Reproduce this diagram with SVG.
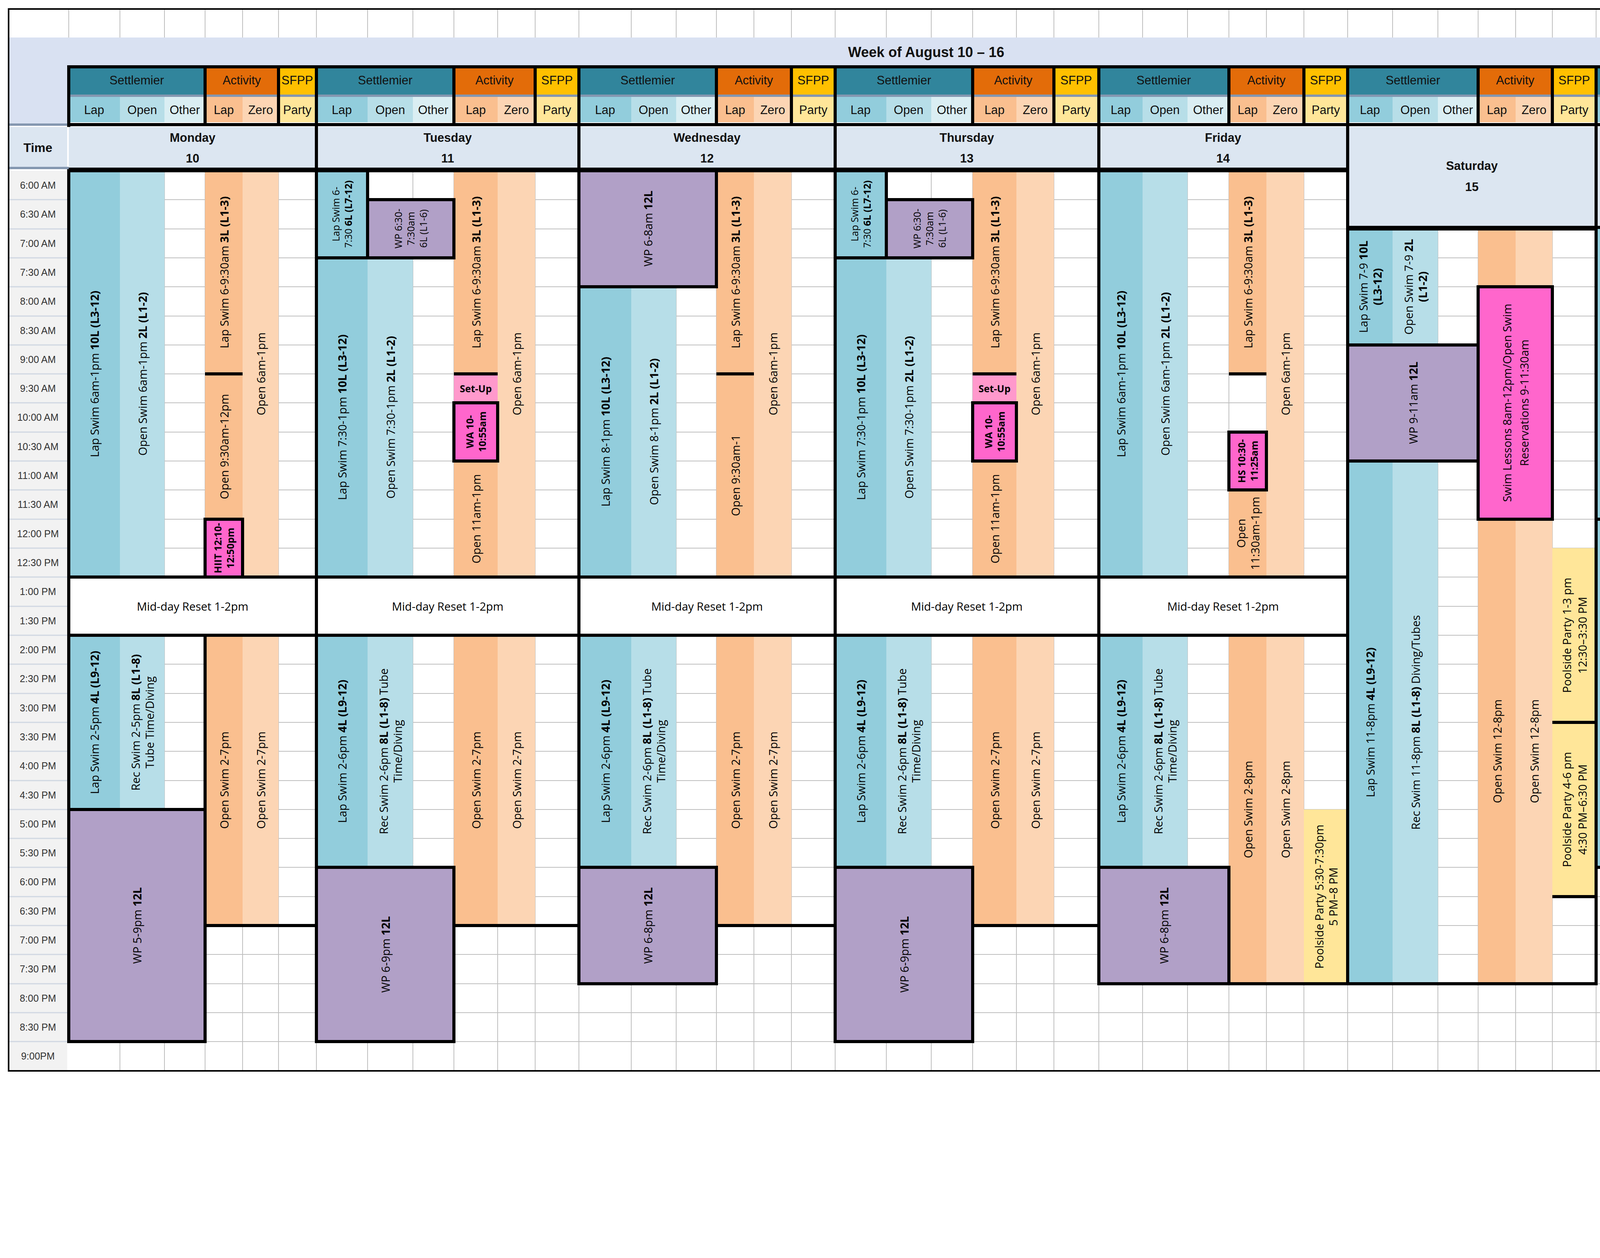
<svg xmlns="http://www.w3.org/2000/svg" width="5020" height="3220" viewBox="0 0 5020 3220">
<style>
.t{font-family:'Open Sans','DejaVu Sans',sans-serif;font-size:29px;text-anchor:middle;dominant-baseline:central;fill:#000}
.s{font-size:25px}
.b{font-weight:bold}
.h{font-family:'Liberation Sans Narrow','Liberation Sans',sans-serif;font-size:31px;text-anchor:middle;dominant-baseline:central;fill:#111}
.tm{font-family:'Liberation Sans Narrow','Liberation Sans',sans-serif;font-size:25px;text-anchor:middle;dominant-baseline:central;fill:#333}
.bd{fill:none;stroke:#000;stroke-width:8}
.ln{stroke:#000;stroke-width:8;fill:none}
.lap{fill:#92CDDC}.open{fill:#B7DEE8}.oth{fill:#DAEEF3}.al{fill:#FABF8F}.az{fill:#FCD5B4}.pt{fill:#FFE699}
.wp{fill:#B1A0C7}.pk{fill:#FF66CC}.su{fill:#FF99CC}.dh{fill:#DCE6F1}
.st{fill:#31859C}.ac{fill:#E36C09}.sf{fill:#FFC000}
</style>
<rect x="0" y="0" width="5020" height="3220" fill="#fff"/>
<g id="background">
<rect x="22" y="96" width="4705" height="71" fill="#D9E1F2"/>
<rect x="22" y="167" width="154" height="152" fill="#D9E1F2"/>
<rect x="22" y="325" width="150" height="102" fill="#DCE6F1"/>
<rect x="22" y="437" width="150" height="2304" fill="#F2F2F2"/>
<path d="M22 319H176M22 430H176" stroke="#8497B0" stroke-width="6"/>
<path stroke="#bfbfbf" stroke-width="2" fill="none" d="M176 511H4727M176 586H4727M176 660H4727M176 734H4727M176 809H4727M176 883H4727M176 957H4727M176 1031H4727M176 1106H4727M176 1180H4727M176 1254H4727M176 1329H4727M176 1403H4727M176 1477H4727M176 1552H4727M176 1626H4727M176 1700H4727M176 1775H4727M176 1849H4727M176 1923H4727M176 1998H4727M176 2072H4727M176 2146H4727M176 2220H4727M176 2295H4727M176 2369H4727M176 2443H4727M176 2518H4727M176 2592H4727M176 2666H4727
M176 23V96M307 23V96M421 23V96M525 23V96M621 23V96M713 23V96M810 23V96M941 23V96M1057 23V96M1162 23V96M1274 23V96M1370 23V96M1482 23V96M1616 23V96M1731 23V96M1834 23V96M1930 23V96M2026 23V96M2138 23V96M2269 23V96M2384 23V96M2490 23V96M2602 23V96M2698 23V96M2813 23V96M2925 23V96M3040 23V96M3146 23V96M3242 23V96M3338 23V96M3450 23V96M3565 23V96M3681 23V96M3784 23V96M3880 23V96M3974 23V96M4086 23V96M4204 23V96M4319 23V96M4423 23V96M4519 23V96M4609 23V96
M307 437V2741M421 437V2741M525 437V2741M621 437V2741M713 437V2741M810 437V2741M941 437V2741M1057 437V2741M1162 437V2741M1274 437V2741M1370 437V2741M1482 437V2741M1616 437V2741M1731 437V2741M1834 437V2741M1930 437V2741M2026 437V2741M2138 437V2741M2269 437V2741M2384 437V2741M2490 437V2741M2602 437V2741M2698 437V2741M2813 437V2741M2925 437V2741M3040 437V2741M3146 437V2741M3242 437V2741M3338 437V2741M3450 437V2741M3565 437V2741M3681 437V2741M3784 437V2741M3880 437V2741M3974 437V2741M4086 437V2741M4204 437V2741M4319 437V2741M4423 437V2741M4519 437V2741M4609 437V2741"/>
<path stroke="#d0d7e2" stroke-width="3" d="M22 511H172M22 586H172M22 660H172M22 734H172M22 809H172M22 883H172M22 957H172M22 1031H172M22 1106H172M22 1180H172M22 1254H172M22 1329H172M22 1403H172M22 1477H172M22 1552H172M22 1626H172M22 1700H172M22 1775H172M22 1849H172M22 1923H172M22 1998H172M22 2072H172M22 2146H172M22 2220H172M22 2295H172M22 2369H172M22 2443H172M22 2518H172M22 2592H172M22 2666H172"/>
<rect x="22" y="23" width="4705" height="2718" fill="none" stroke="#000" stroke-width="4"/>
<text x="2371" y="133" class="h b" style="font-size:36px">Week of August 10 – 16</text>
<text x="97" y="378" class="h b" style="font-size:32px">Time</text>
</g>
<g id="times">
<text class="tm" x="97" y="474">6:00 AM</text><text class="tm" x="97" y="548">6:30 AM</text><text class="tm" x="97" y="623">7:00 AM</text><text class="tm" x="97" y="697">7:30 AM</text><text class="tm" x="97" y="771">8:00 AM</text><text class="tm" x="97" y="846">8:30 AM</text><text class="tm" x="97" y="920">9:00 AM</text><text class="tm" x="97" y="994">9:30 AM</text><text class="tm" x="97" y="1068">10:00 AM</text><text class="tm" x="97" y="1143">10:30 AM</text><text class="tm" x="97" y="1217">11:00 AM</text><text class="tm" x="97" y="1291">11:30 AM</text><text class="tm" x="97" y="1366">12:00 PM</text><text class="tm" x="97" y="1440">12:30 PM</text><text class="tm" x="97" y="1514">1:00 PM</text><text class="tm" x="97" y="1589">1:30 PM</text><text class="tm" x="97" y="1663">2:00 PM</text><text class="tm" x="97" y="1737">2:30 PM</text><text class="tm" x="97" y="1812">3:00 PM</text><text class="tm" x="97" y="1886">3:30 PM</text><text class="tm" x="97" y="1960">4:00 PM</text><text class="tm" x="97" y="2035">4:30 PM</text><text class="tm" x="97" y="2109">5:00 PM</text><text class="tm" x="97" y="2183">5:30 PM</text><text class="tm" x="97" y="2257">6:00 PM</text><text class="tm" x="97" y="2332">6:30 PM</text><text class="tm" x="97" y="2406">7:00 PM</text><text class="tm" x="97" y="2480">7:30 PM</text><text class="tm" x="97" y="2555">8:00 PM</text><text class="tm" x="97" y="2629">8:30 PM</text><text class="tm" x="97" y="2703">9:00PM</text>
</g>
<g id="column-headers">
<g>
<rect class="st" x="176" y="167" width="349" height="75"/><rect class="ac" x="525" y="167" width="188" height="75"/><rect class="sf" x="713" y="167" width="97" height="75"/>
<rect class="lap" x="176" y="248" width="131" height="65"/><rect class="open" x="307" y="248" width="114" height="65"/><rect class="oth" x="421" y="248" width="104" height="65"/><rect class="al" x="525" y="248" width="96" height="65"/><rect class="az" x="621" y="248" width="92" height="65"/><rect class="pt" x="713" y="248" width="97" height="65"/>
<text class="h" x="350" y="205">Settlemier</text><text class="h" x="619" y="205">Activity</text><text class="h" x="761" y="205">SFPP</text>
<text class="h" x="241" y="281">Lap</text><text class="h" x="364" y="281">Open</text><text class="h" x="473" y="281">Other</text><text class="h" x="573" y="281">Lap</text><text class="h" x="667" y="281">Zero</text><text class="h" x="761" y="281">Party</text>
</g>
<g>
<rect class="st" x="810" y="167" width="352" height="75"/><rect class="ac" x="1162" y="167" width="208" height="75"/><rect class="sf" x="1370" y="167" width="112" height="75"/>
<rect class="lap" x="810" y="248" width="131" height="65"/><rect class="open" x="941" y="248" width="116" height="65"/><rect class="oth" x="1057" y="248" width="105" height="65"/><rect class="al" x="1162" y="248" width="112" height="65"/><rect class="az" x="1274" y="248" width="96" height="65"/><rect class="pt" x="1370" y="248" width="112" height="65"/>
<text class="h" x="986" y="205">Settlemier</text><text class="h" x="1266" y="205">Activity</text><text class="h" x="1426" y="205">SFPP</text>
<text class="h" x="875" y="281">Lap</text><text class="h" x="999" y="281">Open</text><text class="h" x="1109" y="281">Other</text><text class="h" x="1218" y="281">Lap</text><text class="h" x="1322" y="281">Zero</text><text class="h" x="1426" y="281">Party</text>
</g>
<g>
<rect class="st" x="1482" y="167" width="352" height="75"/><rect class="ac" x="1834" y="167" width="192" height="75"/><rect class="sf" x="2026" y="167" width="112" height="75"/>
<rect class="lap" x="1482" y="248" width="134" height="65"/><rect class="open" x="1616" y="248" width="115" height="65"/><rect class="oth" x="1731" y="248" width="103" height="65"/><rect class="al" x="1834" y="248" width="96" height="65"/><rect class="az" x="1930" y="248" width="96" height="65"/><rect class="pt" x="2026" y="248" width="112" height="65"/>
<text class="h" x="1658" y="205">Settlemier</text><text class="h" x="1930" y="205">Activity</text><text class="h" x="2082" y="205">SFPP</text>
<text class="h" x="1549" y="281">Lap</text><text class="h" x="1673" y="281">Open</text><text class="h" x="1782" y="281">Other</text><text class="h" x="1882" y="281">Lap</text><text class="h" x="1978" y="281">Zero</text><text class="h" x="2082" y="281">Party</text>
</g>
<g>
<rect class="st" x="2138" y="167" width="352" height="75"/><rect class="ac" x="2490" y="167" width="208" height="75"/><rect class="sf" x="2698" y="167" width="115" height="75"/>
<rect class="lap" x="2138" y="248" width="131" height="65"/><rect class="open" x="2269" y="248" width="115" height="65"/><rect class="oth" x="2384" y="248" width="106" height="65"/><rect class="al" x="2490" y="248" width="112" height="65"/><rect class="az" x="2602" y="248" width="96" height="65"/><rect class="pt" x="2698" y="248" width="115" height="65"/>
<text class="h" x="2314" y="205">Settlemier</text><text class="h" x="2594" y="205">Activity</text><text class="h" x="2755" y="205">SFPP</text>
<text class="h" x="2203" y="281">Lap</text><text class="h" x="2326" y="281">Open</text><text class="h" x="2437" y="281">Other</text><text class="h" x="2546" y="281">Lap</text><text class="h" x="2650" y="281">Zero</text><text class="h" x="2755" y="281">Party</text>
</g>
<g>
<rect class="st" x="2813" y="167" width="333" height="75"/><rect class="ac" x="3146" y="167" width="192" height="75"/><rect class="sf" x="3338" y="167" width="112" height="75"/>
<rect class="lap" x="2813" y="248" width="112" height="65"/><rect class="open" x="2925" y="248" width="115" height="65"/><rect class="oth" x="3040" y="248" width="106" height="65"/><rect class="al" x="3146" y="248" width="96" height="65"/><rect class="az" x="3242" y="248" width="96" height="65"/><rect class="pt" x="3338" y="248" width="112" height="65"/>
<text class="h" x="2979" y="205">Settlemier</text><text class="h" x="3242" y="205">Activity</text><text class="h" x="3394" y="205">SFPP</text>
<text class="h" x="2869" y="281">Lap</text><text class="h" x="2982" y="281">Open</text><text class="h" x="3093" y="281">Other</text><text class="h" x="3194" y="281">Lap</text><text class="h" x="3290" y="281">Zero</text><text class="h" x="3394" y="281">Party</text>
</g>
<g>
<rect class="st" x="3450" y="167" width="334" height="75"/><rect class="ac" x="3784" y="167" width="190" height="75"/><rect class="sf" x="3974" y="167" width="112" height="75"/>
<rect class="lap" x="3450" y="248" width="115" height="65"/><rect class="open" x="3565" y="248" width="116" height="65"/><rect class="oth" x="3681" y="248" width="103" height="65"/><rect class="al" x="3784" y="248" width="96" height="65"/><rect class="az" x="3880" y="248" width="94" height="65"/><rect class="pt" x="3974" y="248" width="112" height="65"/>
<text class="h" x="3617" y="205">Settlemier</text><text class="h" x="3879" y="205">Activity</text><text class="h" x="4030" y="205">SFPP</text>
<text class="h" x="3507" y="281">Lap</text><text class="h" x="3623" y="281">Open</text><text class="h" x="3732" y="281">Other</text><text class="h" x="3832" y="281">Lap</text><text class="h" x="3927" y="281">Zero</text><text class="h" x="4030" y="281">Party</text>
</g>
<g>
<rect class="st" x="4086" y="167" width="337" height="75"/><rect class="ac" x="4423" y="167" width="186" height="75"/><rect class="sf" x="4609" y="167" width="118" height="75"/>
<rect class="lap" x="4086" y="248" width="118" height="65"/><rect class="open" x="4204" y="248" width="115" height="65"/><rect class="oth" x="4319" y="248" width="104" height="65"/><rect class="al" x="4423" y="248" width="96" height="65"/><rect class="az" x="4519" y="248" width="90" height="65"/><rect class="pt" x="4609" y="248" width="118" height="65"/>
<text class="h" x="4254" y="205">Settlemier</text><text class="h" x="4516" y="205">Activity</text><text class="h" x="4667" y="205">SFPP</text>
<text class="h" x="4145" y="281">Lap</text><text class="h" x="4261" y="281">Open</text><text class="h" x="4371" y="281">Other</text><text class="h" x="4471" y="281">Lap</text><text class="h" x="4564" y="281">Zero</text><text class="h" x="4667" y="281">Party</text>
</g>
<rect x="176" y="242" width="4551" height="6" fill="#8497B0"/>
<path class="ln" d="M172 171H4727M172 319H4727M176 167V325M525 167V319M713 167V319M810 167V325M1162 167V319M1370 167V319M1482 167V325M1834 167V319M2026 167V319M2138 167V325M2490 167V319M2698 167V319M2813 167V325M3146 167V319M3338 167V319M3450 167V325M3784 167V319M3974 167V319M4086 167V325M4423 167V319M4609 167V319M4723 167V325"/>
</g>
<g id="day-headers">
<rect class="dh" x="176" y="325" width="634" height="106"/><rect class="dh" x="810" y="325" width="672" height="106"/><rect class="dh" x="1482" y="325" width="656" height="106"/><rect class="dh" x="2138" y="325" width="675" height="106"/><rect class="dh" x="2813" y="325" width="637" height="106"/><rect class="dh" x="3450" y="325" width="636" height="261"/><rect class="dh" x="4086" y="325" width="637" height="261"/>
<text class="h b" x="493" y="352">Monday</text><text class="h b" x="493" y="405">10</text>
<text class="h b" x="1146" y="352">Tuesday</text><text class="h b" x="1146" y="405">11</text>
<text class="h b" x="1810" y="352">Wednesday</text><text class="h b" x="1810" y="405">12</text>
<text class="h b" x="2475" y="352">Thursday</text><text class="h b" x="2475" y="405">13</text>
<text class="h b" x="3131" y="352">Friday</text><text class="h b" x="3131" y="405">14</text>
<text class="h b" x="3768" y="424">Saturday</text><text class="h b" x="3768" y="478">15</text>
<text class="h b" x="4406" y="424">Sunday</text><text class="h b" x="4406" y="478">16</text>
<path class="ln" d="M176 433H3450M3450 582H4727M810 325V433M1482 325V433M2138 325V433M2813 325V433M3450 325V586M4086 325V586M4723 325V586"/>
</g>
<g id="monday">
<rect class="lap" x="176" y="437" width="131" height="1040"/><rect class="open" x="307" y="437" width="114" height="1040"/>
<rect class="al" x="525" y="437" width="96" height="892"/><rect class="az" x="621" y="437" width="92" height="1040"/>
<rect class="pk" x="525" y="1329" width="96" height="148"/>
<rect x="176" y="1477" width="634" height="149" fill="#fff"/>
<rect class="lap" x="176" y="1626" width="131" height="446"/><rect class="open" x="307" y="1626" width="114" height="446"/>
<rect class="wp" x="176" y="2072" width="349" height="594"/>
<rect class="al" x="525" y="1626" width="96" height="743"/><rect class="az" x="621" y="1626" width="92" height="743"/>
<text class="t" transform="translate(241,957) rotate(-90)">Lap Swim 6am-1pm <tspan class="b">10L (L3-12)</tspan></text>
<text class="t" transform="translate(364,957) rotate(-90)">Open Swim 6am-1pm <tspan class="b">2L (L1-2)</tspan></text>
<text class="t" transform="translate(573,697) rotate(-90)">Lap Swim 6-9:30am  <tspan class="b">3L (L1-3)</tspan></text>
<text class="t" transform="translate(573,1143) rotate(-90)">Open 9:30am-12pm</text>
<text class="t s b" transform="translate(573,1403) rotate(-90)"><tspan x="0" y="-16">HIIT 12:10-</tspan><tspan x="0" y="16">12:50pm</tspan></text>
<text class="t" transform="translate(667,957) rotate(-90)">Open 6am-1pm</text>
<text class="t" x="493" y="1551">Mid-day Reset 1-2pm</text>
<text class="t" transform="translate(241,1849) rotate(-90)">Lap Swim 2-5pm  <tspan class="b">4L (L9-12)</tspan></text>
<text class="t" transform="translate(364,1849) rotate(-90)"><tspan x="0" y="-18">Rec Swim 2-5pm <tspan class="b">8L (L1-8)</tspan></tspan><tspan x="0" y="18">Tube Time/Diving</tspan></text>
<text class="t" transform="translate(350,2369) rotate(-90)">WP 5-9pm  <tspan class="b">12L</tspan></text>
<text class="t" transform="translate(573,1997) rotate(-90)">Open Swim 2-7pm</text>
<text class="t" transform="translate(667,1997) rotate(-90)">Open Swim 2-7pm</text>
<path class="ln" d="M525 957H621M525 1626V2072M176 2072V1626H810V2369H525"/>
<rect class="bd" x="525" y="1329" width="96" height="148"/>
<rect class="bd" x="176" y="437" width="634" height="1040"/><rect class="bd" x="176" y="1477" width="634" height="149"/>
<rect class="bd" x="176" y="2072" width="349" height="594"/>
</g>
<g id="tuesday">
<rect class="lap" x="810" y="437" width="131" height="223"/><rect class="wp" x="941" y="511" width="221" height="149"/>
<rect class="lap" x="810" y="660" width="131" height="817"/><rect class="open" x="941" y="660" width="116" height="817"/>
<rect class="al" x="1162" y="437" width="112" height="520"/><rect class="su" x="1162" y="957" width="112" height="74"/><rect class="pk" x="1162" y="1031" width="112" height="149"/><rect class="al" x="1162" y="1180" width="112" height="297"/>
<rect class="az" x="1274" y="437" width="96" height="1040"/>
<rect x="810" y="1477" width="672" height="149" fill="#fff"/>
<rect class="lap" x="810" y="1626" width="131" height="594"/><rect class="open" x="941" y="1626" width="116" height="594"/>
<rect class="wp" x="810" y="2220" width="352" height="446"/>
<rect class="al" x="1162" y="1626" width="112" height="743"/><rect class="az" x="1274" y="1626" width="96" height="743"/>
<text class="t s" transform="translate(875,548) rotate(-90)"><tspan x="0" y="-16">Lap Swim 6-</tspan><tspan x="0" y="16">7:30 <tspan class="b">6L (L7-12)</tspan></tspan></text>
<text class="t s" transform="translate(1051,585) rotate(-90)"><tspan x="0" y="-32">WP 6:30-</tspan><tspan x="0" y="0">7:30am</tspan><tspan x="0" y="32">6L (L1-6)</tspan></text>
<text class="t" transform="translate(875,1068) rotate(-90)">Lap Swim 7:30-1pm <tspan class="b">10L (L3-12)</tspan></text>
<text class="t" transform="translate(999,1068) rotate(-90)">Open Swim 7:30-1pm <tspan class="b">2L (L1-2)</tspan></text>
<text class="t" transform="translate(1218,697) rotate(-90)">Lap Swim 6-9:30am  <tspan class="b">3L (L1-3)</tspan></text>
<text class="t s b" x="1218" y="994">Set-Up</text>
<text class="t s b" transform="translate(1218,1105) rotate(-90)"><tspan x="0" y="-16">WA 10-</tspan><tspan x="0" y="16">10:55am</tspan></text>
<text class="t" transform="translate(1218,1328) rotate(-90)">Open 11am-1pm</text>
<text class="t" transform="translate(1322,957) rotate(-90)">Open 6am-1pm</text>
<text class="t" x="1146" y="1551">Mid-day Reset 1-2pm</text>
<text class="t" transform="translate(875,1923) rotate(-90)">Lap Swim 2-6pm  <tspan class="b">4L (L9-12)</tspan></text>
<text class="t" transform="translate(999,1923) rotate(-90)"><tspan x="0" y="-18">Rec Swim 2-6pm <tspan class="b">8L (L1-8)</tspan> Tube</tspan><tspan x="0" y="18">Time/Diving</tspan></text>
<text class="t" transform="translate(986,2443) rotate(-90)">WP 6-9pm  <tspan class="b">12L</tspan></text>
<text class="t" transform="translate(1218,1997) rotate(-90)">Open Swim 2-7pm</text>
<text class="t" transform="translate(1322,1997) rotate(-90)">Open Swim 2-7pm</text>
<path class="ln" d="M1162 957H1274M810 2220V1626H1482V2369H1162"/>
<rect class="bd" x="810" y="437" width="131" height="223"/><rect class="bd" x="941" y="511" width="221" height="149"/>
<rect class="bd" x="1162" y="1031" width="112" height="149"/>
<rect class="bd" x="810" y="437" width="672" height="1040"/><rect class="bd" x="810" y="1477" width="672" height="149"/>
<rect class="bd" x="810" y="2220" width="352" height="446"/>
</g>
<g id="wednesday">
<rect class="wp" x="1482" y="437" width="352" height="297"/>
<rect class="lap" x="1482" y="734" width="134" height="743"/><rect class="open" x="1616" y="734" width="115" height="743"/>
<rect class="al" x="1834" y="437" width="96" height="1040"/><rect class="az" x="1930" y="437" width="96" height="1040"/>
<rect x="1482" y="1477" width="656" height="149" fill="#fff"/>
<rect class="lap" x="1482" y="1626" width="134" height="594"/><rect class="open" x="1616" y="1626" width="115" height="594"/>
<rect class="wp" x="1482" y="2220" width="352" height="298"/>
<rect class="al" x="1834" y="1626" width="96" height="743"/><rect class="az" x="1930" y="1626" width="96" height="743"/>
<text class="t" transform="translate(1658,585) rotate(-90)">WP 6-8am  <tspan class="b">12L</tspan></text>
<text class="t" transform="translate(1549,1105) rotate(-90)">Lap Swim 8-1pm <tspan class="b">10L (L3-12)</tspan></text>
<text class="t" transform="translate(1673,1105) rotate(-90)">Open Swim 8-1pm <tspan class="b">2L (L1-2)</tspan></text>
<text class="t" transform="translate(1882,697) rotate(-90)">Lap Swim 6-9:30am  <tspan class="b">3L (L1-3)</tspan></text>
<text class="t" transform="translate(1882,1217) rotate(-90)">Open 9:30am-1</text>
<text class="t" transform="translate(1978,957) rotate(-90)">Open 6am-1pm</text>
<text class="t" x="1810" y="1551">Mid-day Reset 1-2pm</text>
<text class="t" transform="translate(1549,1923) rotate(-90)">Lap Swim 2-6pm  <tspan class="b">4L (L9-12)</tspan></text>
<text class="t" transform="translate(1673,1923) rotate(-90)"><tspan x="0" y="-18">Rec Swim 2-6pm <tspan class="b">8L (L1-8)</tspan> Tube</tspan><tspan x="0" y="18">Time/Diving</tspan></text>
<text class="t" transform="translate(1658,2369) rotate(-90)">WP 6-8pm  <tspan class="b">12L</tspan></text>
<text class="t" transform="translate(1882,1997) rotate(-90)">Open Swim 2-7pm</text>
<text class="t" transform="translate(1978,1997) rotate(-90)">Open Swim 2-7pm</text>
<path class="ln" d="M1834 957H1930M1482 2220V1626H2138V2369H1834"/>
<rect class="bd" x="1482" y="437" width="352" height="297"/>
<rect class="bd" x="1482" y="437" width="656" height="1040"/><rect class="bd" x="1482" y="1477" width="656" height="149"/>
<rect class="bd" x="1482" y="2220" width="352" height="298"/>
</g>
<g id="thursday">
<rect class="lap" x="2138" y="437" width="131" height="223"/><rect class="wp" x="2269" y="511" width="221" height="149"/>
<rect class="lap" x="2138" y="660" width="131" height="817"/><rect class="open" x="2269" y="660" width="115" height="817"/>
<rect class="al" x="2490" y="437" width="112" height="520"/><rect class="su" x="2490" y="957" width="112" height="74"/><rect class="pk" x="2490" y="1031" width="112" height="149"/><rect class="al" x="2490" y="1180" width="112" height="297"/>
<rect class="az" x="2602" y="437" width="96" height="1040"/>
<rect x="2138" y="1477" width="675" height="149" fill="#fff"/>
<rect class="lap" x="2138" y="1626" width="131" height="594"/><rect class="open" x="2269" y="1626" width="115" height="594"/>
<rect class="wp" x="2138" y="2220" width="352" height="446"/>
<rect class="al" x="2490" y="1626" width="112" height="743"/><rect class="az" x="2602" y="1626" width="96" height="743"/>
<text class="t s" transform="translate(2203,548) rotate(-90)"><tspan x="0" y="-16">Lap Swim 6-</tspan><tspan x="0" y="16">7:30 <tspan class="b">6L (L7-12)</tspan></tspan></text>
<text class="t s" transform="translate(2379,585) rotate(-90)"><tspan x="0" y="-32">WP 6:30-</tspan><tspan x="0" y="0">7:30am</tspan><tspan x="0" y="32">6L (L1-6)</tspan></text>
<text class="t" transform="translate(2203,1068) rotate(-90)">Lap Swim 7:30-1pm <tspan class="b">10L (L3-12)</tspan></text>
<text class="t" transform="translate(2326,1068) rotate(-90)">Open Swim 7:30-1pm <tspan class="b">2L (L1-2)</tspan></text>
<text class="t" transform="translate(2546,697) rotate(-90)">Lap Swim 6-9:30am  <tspan class="b">3L (L1-3)</tspan></text>
<text class="t s b" x="2546" y="994">Set-Up</text>
<text class="t s b" transform="translate(2546,1105) rotate(-90)"><tspan x="0" y="-16">WA 10-</tspan><tspan x="0" y="16">10:55am</tspan></text>
<text class="t" transform="translate(2546,1328) rotate(-90)">Open 11am-1pm</text>
<text class="t" transform="translate(2650,957) rotate(-90)">Open 6am-1pm</text>
<text class="t" x="2475" y="1551">Mid-day Reset 1-2pm</text>
<text class="t" transform="translate(2203,1923) rotate(-90)">Lap Swim 2-6pm  <tspan class="b">4L (L9-12)</tspan></text>
<text class="t" transform="translate(2326,1923) rotate(-90)"><tspan x="0" y="-18">Rec Swim 2-6pm <tspan class="b">8L (L1-8)</tspan> Tube</tspan><tspan x="0" y="18">Time/Diving</tspan></text>
<text class="t" transform="translate(2314,2443) rotate(-90)">WP 6-9pm  <tspan class="b">12L</tspan></text>
<text class="t" transform="translate(2546,1997) rotate(-90)">Open Swim 2-7pm</text>
<text class="t" transform="translate(2650,1997) rotate(-90)">Open Swim 2-7pm</text>
<path class="ln" d="M2490 957H2602M2138 2220V1626H2813V2369H2490"/>
<rect class="bd" x="2138" y="437" width="131" height="223"/><rect class="bd" x="2269" y="511" width="221" height="149"/>
<rect class="bd" x="2490" y="1031" width="112" height="149"/>
<rect class="bd" x="2138" y="437" width="675" height="1040"/><rect class="bd" x="2138" y="1477" width="675" height="149"/>
<rect class="bd" x="2138" y="2220" width="352" height="446"/>
</g>
<g id="friday">
<rect class="lap" x="2813" y="437" width="112" height="1040"/><rect class="open" x="2925" y="437" width="115" height="1040"/>
<rect class="al" x="3146" y="437" width="96" height="520"/><rect class="pk" x="3146" y="1106" width="96" height="148"/><rect class="al" x="3146" y="1254" width="96" height="223"/>
<rect class="az" x="3242" y="437" width="96" height="1040"/>
<rect x="2813" y="1477" width="637" height="149" fill="#fff"/>
<rect class="lap" x="2813" y="1626" width="112" height="594"/><rect class="open" x="2925" y="1626" width="115" height="594"/>
<rect class="wp" x="2813" y="2220" width="333" height="298"/>
<rect class="al" x="3146" y="1626" width="96" height="892"/><rect class="az" x="3242" y="1626" width="96" height="892"/>
<rect class="pt" x="3338" y="2072" width="112" height="446"/>
<text class="t" transform="translate(2869,957) rotate(-90)">Lap Swim 6am-1pm <tspan class="b">10L (L3-12)</tspan></text>
<text class="t" transform="translate(2982,957) rotate(-90)">Open Swim 6am-1pm <tspan class="b">2L (L1-2)</tspan></text>
<text class="t" transform="translate(3194,697) rotate(-90)">Lap Swim 6-9:30am  <tspan class="b">3L (L1-3)</tspan></text>
<text class="t s b" transform="translate(3194,1180) rotate(-90)"><tspan x="0" y="-16">HS 10:30-</tspan><tspan x="0" y="16">11:25am</tspan></text>
<text class="t" transform="translate(3194,1365) rotate(-90)"><tspan x="0" y="-18">Open</tspan><tspan x="0" y="18">11:30am-1pm</tspan></text>
<text class="t" transform="translate(3290,957) rotate(-90)">Open 6am-1pm</text>
<text class="t" x="3131" y="1551">Mid-day Reset 1-2pm</text>
<text class="t" transform="translate(2869,1923) rotate(-90)">Lap Swim 2-6pm  <tspan class="b">4L (L9-12)</tspan></text>
<text class="t" transform="translate(2982,1923) rotate(-90)"><tspan x="0" y="-18">Rec Swim 2-6pm <tspan class="b">8L (L1-8)</tspan> Tube</tspan><tspan x="0" y="18">Time/Diving</tspan></text>
<text class="t" transform="translate(2979,2369) rotate(-90)">WP 6-8pm  <tspan class="b">12L</tspan></text>
<text class="t" transform="translate(3194,2072) rotate(-90)">Open Swim 2-8pm</text>
<text class="t" transform="translate(3290,2072) rotate(-90)">Open Swim 2-8pm</text>
<text class="t" transform="translate(3394,2295) rotate(-90)"><tspan x="0" y="-18">Poolside Party 5:30-7:30pm</tspan><tspan x="0" y="18">5 PM–8 PM</tspan></text>
<path class="ln" d="M3146 957H3242"/>
<rect class="bd" x="3146" y="1106" width="96" height="148"/>
<rect class="bd" x="2813" y="437" width="637" height="1040"/><rect class="bd" x="2813" y="1477" width="637" height="149"/>
<rect class="bd" x="2813" y="1626" width="637" height="892"/><rect class="bd" x="2813" y="2220" width="333" height="298"/>
</g>
<g id="saturday">
<rect class="lap" x="3450" y="586" width="115" height="297"/><rect class="open" x="3565" y="586" width="116" height="297"/>
<rect class="wp" x="3450" y="883" width="334" height="297"/>
<rect class="lap" x="3450" y="1180" width="115" height="1338"/><rect class="open" x="3565" y="1180" width="116" height="1338"/>
<rect class="al" x="3784" y="586" width="96" height="148"/><rect class="az" x="3880" y="586" width="94" height="148"/>
<rect class="pk" x="3784" y="734" width="190" height="595"/>
<rect class="al" x="3784" y="1329" width="96" height="1189"/><rect class="az" x="3880" y="1329" width="94" height="1189"/>
<rect class="pt" x="3974" y="1403" width="112" height="892"/>
<text class="t" transform="translate(3507,734) rotate(-90)"><tspan x="0" y="-18">Lap Swim 7-9 <tspan class="b">10L</tspan></tspan><tspan x="0" y="18" class="b">(L3-12)</tspan></text>
<text class="t" transform="translate(3623,734) rotate(-90)"><tspan x="0" y="-18">Open Swim 7-9 <tspan class="b">2L</tspan></tspan><tspan x="0" y="18" class="b">(L1-2)</tspan></text>
<text class="t" transform="translate(3617,1031) rotate(-90)">WP 9-11am  <tspan class="b">12L</tspan></text>
<text class="t" transform="translate(3507,1849) rotate(-90)">Lap Swim 11-8pm  <tspan class="b">4L (L9-12)</tspan></text>
<text class="t" transform="translate(3623,1849) rotate(-90)">Rec Swim 11-8pm  <tspan class="b">8L  (L1-8)</tspan>  Diving/Tubes</text>
<text class="t" transform="translate(3879,1031) rotate(-90)"><tspan x="0" y="-22">Swim Lessons 8am-12pm/Open Swim</tspan><tspan x="0" y="22">Reservations 9-11:30am</tspan></text>
<text class="t" transform="translate(3832,1923) rotate(-90)">Open Swim 12-8pm</text>
<text class="t" transform="translate(3927,1923) rotate(-90)">Open Swim 12-8pm</text>
<text class="t" transform="translate(4030,1626) rotate(-90)"><tspan x="0" y="-20">Poolside Party 1-3 pm</tspan><tspan x="0" y="20">12:30–3:30 PM</tspan></text>
<text class="t" transform="translate(4030,2072) rotate(-90)"><tspan x="0" y="-20">Poolside Party 4-6 pm</tspan><tspan x="0" y="20">4:30 PM–6:30 PM</tspan></text>
<path class="ln" d="M3450 883H3784M3974 1849H4086M3974 2295H4086"/>
<rect class="bd" x="3450" y="883" width="334" height="297"/>
<rect class="bd" x="3784" y="734" width="190" height="595"/>
<rect class="bd" x="3450" y="586" width="636" height="1932"/>
</g>
<g id="sunday">
<rect class="lap" x="4086" y="586" width="118" height="743"/><rect class="open" x="4204" y="586" width="115" height="743"/>
<rect class="al" x="4423" y="586" width="96" height="148"/><rect class="az" x="4519" y="586" width="90" height="148"/>
<rect class="pk" x="4423" y="734" width="186" height="595"/>
<rect class="lap" x="4086" y="1329" width="118" height="891"/><rect class="open" x="4204" y="1329" width="115" height="891"/>
<rect class="al" x="4423" y="1329" width="96" height="891"/><rect class="az" x="4519" y="1329" width="90" height="891"/>
<rect class="pt" x="4609" y="1403" width="114" height="892"/>
<text class="t" transform="translate(4145,957) rotate(-90)">Lap Swim 7am-12pm <tspan class="b">10L (L3-12)</tspan></text>
<text class="t" transform="translate(4261,957) rotate(-90)">Open Swim 7am-12pm <tspan class="b">2L (L1-2)</tspan></text>
<text class="t" transform="translate(4516,1031) rotate(-90)"><tspan x="0" y="-22">Swim Lessons 8am-12pm/Open Swim</tspan><tspan x="0" y="22">Reservations 9-11:30am</tspan></text>
<text class="t" transform="translate(4145,1774) rotate(-90)">Lap Swim 12-6pm  <tspan class="b">4L (L9-12)</tspan></text>
<text class="t" transform="translate(4261,1774) rotate(-90)">Rec Swim 12-6pm <tspan class="b">8L (L1-8)</tspan> Diving/Tubes</text>
<text class="t" transform="translate(4471,1774) rotate(-90)">Open Swim 12:00-6pm</text>
<text class="t" transform="translate(4564,1774) rotate(-90)">Open Swim 12:00-6pm</text>
<text class="t" transform="translate(4667,1626) rotate(-90)"><tspan x="0" y="-20">Poolside Party 1-3 pm</tspan><tspan x="0" y="20">12:30–3:30 PM</tspan></text>
<text class="t" transform="translate(4667,2072) rotate(-90)"><tspan x="0" y="-20">Poolside Party 4-6 pm</tspan><tspan x="0" y="20">4:30 PM–6:30 PM</tspan></text>
<path class="ln" d="M4086 1329H4319M4423 734H4609M4423 1329H4609M4609 1849H4723M4723 586V1403M4086 582V2224M4082 2220H4609"/>
<rect class="bd" x="4609" y="1403" width="114" height="892"/>
</g>
</svg>
